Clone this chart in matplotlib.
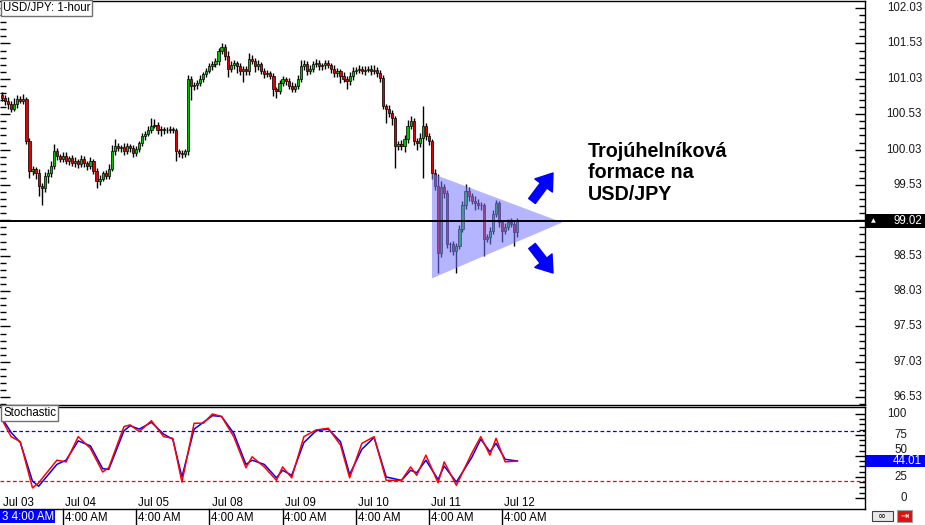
import matplotlib
matplotlib.use('Agg')
import numpy as np
import matplotlib.pyplot as plt
from matplotlib.patches import Polygon, Rectangle
from matplotlib.lines import Line2D
import matplotlib.transforms as mtrans

plt.rcParams['font.family'] = ['Liberation Sans', 'DejaVu Sans']

# ---------------- data ----------------
first_open = 100.80
closes = [
    100.76, 100.72, 100.68, 100.61, 100.68, 100.75, 100.72, 100.75, 100.15, 99.73,
    99.76, 99.70, 99.52, 99.48, 99.66, 99.70, 99.80, 100.01, 99.94, 99.90,
    99.94, 99.87, 99.91, 99.84, 99.87, 99.83, 99.90, 99.84, 99.80, 99.87,
    99.73, 99.59, 99.62, 99.70, 99.66, 99.76, 100.01, 100.08, 100.05, 100.07,
    100.01, 100.08, 100.05, 99.98, 100.04, 100.12, 100.22, 100.25, 100.30, 100.37,
    100.38, 100.30, 100.32, 100.30, 100.31, 100.32, 100.30, 100.01, 99.98, 99.97,
    100.01, 101.03, 100.93, 100.94, 100.97, 101.03, 101.10, 101.14, 101.21, 101.24,
    101.28, 101.42, 101.48, 101.35, 101.17, 101.23, 101.25, 101.21, 101.14, 101.17,
    101.14, 101.31, 101.28, 101.21, 101.24, 101.14, 101.10, 101.11, 101.07, 100.89,
    100.86, 100.97, 101.03, 101.00, 100.93, 100.89, 100.93, 101.03, 101.21, 101.24,
    101.14, 101.17, 101.24, 101.25, 101.21, 101.22, 101.25, 101.22, 101.17, 101.11,
    101.14, 101.07, 101.03, 101.00, 101.07, 101.14, 101.16, 101.17, 101.14, 101.16,
    101.17, 101.14, 101.16, 101.11, 101.04, 100.65, 100.61, 100.55, 100.48, 100.08,
    100.11, 100.08, 100.18, 100.37, 100.44, 100.15, 100.12, 100.20, 100.36, 100.22,
    100.15, 99.70, 99.52, 98.57, 99.50, 99.42, 98.70, 98.69, 98.60, 98.67,
    98.91, 99.24, 99.45, 99.37, 99.31, 99.28, 99.24, 99.25, 98.77, 98.80,
    98.88, 99.12, 99.27, 99.00, 98.88, 98.94, 99.01, 98.98, 98.86, 99.02,
]
wick_up = [
    0.05, 0.04, 0.06, 0.03, 0.08, 0.05, 0.04, 0.06, 0.03, 0.05,
    0.04, 0.03, 0.05, 0.04, 0.06, 0.05, 0.07, 0.10, 0.04, 0.03,
    0.05, 0.06, 0.03, 0.04, 0.05, 0.03, 0.06, 0.04, 0.03, 0.05,
    0.03, 0.04, 0.05, 0.03, 0.04, 0.06, 0.08, 0.10, 0.04, 0.03,
    0.05, 0.04, 0.03, 0.05, 0.04, 0.03, 0.05, 0.04, 0.06, 0.10,
    0.08, 0.04, 0.05, 0.03, 0.04, 0.05, 0.03, 0.04, 0.03, 0.04,
    0.03, 0.06, 0.04, 0.05, 0.04, 0.05, 0.03, 0.04, 0.05, 0.04,
    0.05, 0.05, 0.06, 0.04, 0.08, 0.05, 0.04, 0.03, 0.05, 0.04,
    0.04, 0.08, 0.06, 0.04, 0.05, 0.03, 0.04, 0.05, 0.03, 0.04,
    0.03, 0.05, 0.04, 0.03, 0.04, 0.05, 0.04, 0.06, 0.08, 0.05,
    0.04, 0.05, 0.04, 0.06, 0.05, 0.04, 0.05, 0.04, 0.03, 0.05,
    0.04, 0.03, 0.05, 0.04, 0.05, 0.06, 0.04, 0.05, 0.04, 0.05,
    0.04, 0.05, 0.06, 0.04, 0.05, 0.04, 0.03, 0.05, 0.04, 0.03,
    0.04, 0.05, 0.06, 0.08, 0.06, 0.04, 0.05, 0.06, 0.29, 0.05,
    0.04, 0.03, 0.06, 0.17, 0.08, 0.05, 0.04, 0.03, 0.05, 0.04,
    0.05, 0.06, 0.10, 0.05, 0.04, 0.06, 0.05, 0.04, 0.03, 0.04,
    0.05, 0.06, 0.05, 0.04, 0.03, 0.05, 0.04, 0.05, 0.04, 0.05,
]
wick_dn = [
    0.04, 0.06, 0.08, 0.05, 0.04, 0.06, 0.03, 0.05, 0.04, 0.10,
    0.06, 0.08, 0.15, 0.24, 0.05, 0.10, 0.06, 0.04, 0.06, 0.05,
    0.04, 0.05, 0.06, 0.04, 0.05, 0.06, 0.04, 0.05, 0.06, 0.04,
    0.05, 0.10, 0.06, 0.04, 0.05, 0.04, 0.03, 0.05, 0.04, 0.06,
    0.05, 0.04, 0.06, 0.05, 0.04, 0.05, 0.04, 0.05, 0.03, 0.04,
    0.04, 0.05, 0.08, 0.05, 0.04, 0.05, 0.04, 0.14, 0.05, 0.06,
    0.04, 0.05, 0.20, 0.06, 0.05, 0.04, 0.05, 0.04, 0.03, 0.05,
    0.04, 0.05, 0.04, 0.06, 0.12, 0.05, 0.06, 0.10, 0.05, 0.15,
    0.06, 0.05, 0.04, 0.08, 0.05, 0.04, 0.06, 0.05, 0.04, 0.10,
    0.10, 0.05, 0.04, 0.06, 0.05, 0.04, 0.05, 0.04, 0.05, 0.06,
    0.05, 0.04, 0.05, 0.04, 0.05, 0.06, 0.05, 0.04, 0.06, 0.05,
    0.06, 0.10, 0.05, 0.12, 0.06, 0.05, 0.04, 0.05, 0.04, 0.05,
    0.04, 0.05, 0.04, 0.05, 0.06, 0.05, 0.20, 0.06, 0.10, 0.31,
    0.06, 0.05, 0.08, 0.06, 0.05, 0.06, 0.10, 0.05, 0.57, 0.06,
    0.05, 0.08, 0.06, 0.28, 0.06, 0.08, 0.06, 0.11, 0.06, 0.32,
    0.05, 0.04, 0.05, 0.06, 0.05, 0.10, 0.05, 0.06, 0.24, 0.05,
    0.10, 0.05, 0.04, 0.06, 0.15, 0.05, 0.04, 0.05, 0.19, 0.06,
]
current_price = 99.02

# stochastic (candle index, value)
stoch_idx = [0, 3, 6, 10, 12, 18, 21, 25, 29, 33, 35, 40, 42, 45, 49, 53, 56, 59, 63, 66,
             69, 72, 76, 80, 82, 86, 90, 92, 95, 99, 103, 107, 111, 114, 118, 122, 126, 131, 134, 136,
             139, 143, 145, 149, 154, 157, 160, 162, 165, 169]
stoch_main = [93, 73, 67, 12, 18, 45, 43, 73, 59, 31, 36, 85, 87, 79, 92, 73, 71, 19, 89, 89,
              100, 97, 73, 36, 49, 37, 21, 37, 24, 73, 81, 83, 63, 24, 65, 73, 21, 21, 37, 27,
              51, 18, 43, 15, 53, 73, 51, 71, 43, 44]
stoch_signal = [95, 78, 66, 20, 14, 40, 45, 68, 62, 35, 34, 80, 86, 82, 90, 76, 70, 25, 82, 90,
                98, 97, 77, 40, 45, 40, 24, 33, 27, 66, 80, 82, 67, 28, 58, 72, 25, 21, 33, 30,
                45, 22, 38, 19, 48, 70, 55, 65, 46, 44.01]
stoch_last = 44.01
stoch_levels = [80, 20]

# triangle pattern (candle index, price)
tri_x = [141.0, 141.0, 183.7]
tri_y = [99.69, 98.21, 99.00]

price_ticks = [102.03, 101.53, 101.03, 100.53, 100.03, 99.53, 99.03, 98.53, 98.03, 97.53, 97.03, 96.53]
price_labels = ['102.03', '101.53', '101.03', '100.53', '100.03', '99.53', '', '98.53', '98.03',
                '97.53', '97.03', '96.53']
stoch_ticks = [100, 75, 50, 25, 0]

day_labels = ['Jul 04', 'Jul 05', 'Jul 08', 'Jul 09', 'Jul 10', 'Jul 11', 'Jul 12']
day_idx = [20, 44, 68, 92, 116, 140, 164]
first_day_label = 'Jul 03'
hour_label = '4:00 AM'

title = 'USD/JPY: 1-hour'
annotation_lines = ['Trojúhelníková', 'formace na', 'USD/JPY']

# ---------------- figure ----------------
W, H = 925, 525
fig = plt.figure(figsize=(W / 100, H / 100), dpi=100)
FS = 8.3


def fx(px):
    return px / W


def fy(py):
    return (H - py) / H


XL = (-0.66, 283.0)
ax = fig.add_axes([0, fy(405), fx(865), fy(1) - fy(405)])
ax2 = fig.add_axes([0, fy(509), fx(865), fy(407) - fy(509)])
for a in (ax, ax2):
    a.set_xlim(*XL)
    a.set_xticks([])
    a.spines['left'].set_visible(False)
    for s in ('top', 'right', 'bottom'):
        a.spines[s].set_color('black')
        a.spines[s].set_linewidth(1.0)
    a.set_facecolor('white')

ax.set_ylim(96.42, 102.13)
ax2.set_ylim(-13.1, 108.3)

# candles
n = len(closes)
opens = [first_open] + closes[:-1]
xs = np.arange(n)
highs = [max(o, c) + u for o, c, u in zip(opens, closes, wick_up)]
lows = [min(o, c) - d for o, c, d in zip(opens, closes, wick_dn)]
ax.vlines(xs, lows, highs, color='black', lw=1.0, zorder=2)
bottoms = [min(o, c) for o, c in zip(opens, closes)]
heights = [max(abs(c - o), 0.012) for o, c in zip(opens, closes)]
cols = ['#00c000' if c >= o else '#e00000' for o, c in zip(opens, closes)]
ax.bar(xs, heights, bottom=bottoms, width=0.72, color=cols, edgecolor='black',
       linewidth=0.5, zorder=3)

# triangle
tri = Polygon(list(zip(tri_x, tri_y)), closed=True, facecolor='#7878ff', alpha=0.55,
              edgecolor='none', zorder=4)
ax.add_patch(tri)

# current price line
ax.axhline(current_price, color='black', lw=1.4, zorder=5)

# y ticks main
minor_main = np.round(np.arange(96.43, 102.10, 0.1), 2)
ax.yaxis.set_ticks_position('both')
ax.set_yticks(price_ticks)
ax.set_yticks(minor_main, minor=True)
ax.tick_params(axis='y', which='major', direction='in', length=7, width=1, color='black',
               labelleft=False, labelright=False)
ax.tick_params(axis='y', which='minor', direction='in', length=4, width=1, color='black')

tr_main = mtrans.blended_transform_factory(fig.transFigure, ax.transData)
for p, lab in zip(price_ticks, price_labels):
    if lab:
        fig.text(fx(922), p, lab, transform=tr_main, fontsize=FS, ha='right', va='center',
                 color='#1a1a1a')

# current price box
fig.patches.append(Rectangle((fx(866), fy(228)), fx(59), 14 / H, transform=fig.transFigure,
                             facecolor='black', edgecolor='none', zorder=2.5))
fig.text(fx(873), fy(221), '▲', fontsize=4.5, color='white', ha='center', va='center',
         zorder=4, family=['DejaVu Sans'])
fig.text(fx(922), fy(221), f'{current_price:.2f}', fontsize=FS, color='white', ha='right',
         va='center', zorder=4)

# stochastic
ax2.plot(stoch_idx, stoch_signal, color='#0000ff', lw=1.1, zorder=3)
ax2.plot(stoch_idx, stoch_main, color='#ff0000', lw=1.1, zorder=4)
ax2.axhline(stoch_levels[0], color='#0000ff', lw=0.9, ls=(0, (3, 2)), zorder=2)
ax2.axhline(stoch_levels[1], color='#ff0000', lw=0.9, ls=(0, (3, 2)), zorder=2)
ax2.yaxis.set_ticks_position('right')
ax2.set_yticks(stoch_ticks)
ax2.set_yticks(np.arange(0, 100.1, 6.25), minor=True)
ax2.tick_params(axis='y', which='major', direction='in', length=7, width=1, color='black',
                labelright=False, labelleft=False)
ax2.tick_params(axis='y', which='minor', direction='in', length=4, width=1, color='black')

tr_st = mtrans.blended_transform_factory(fig.transFigure, ax2.transData)
for v in stoch_ticks:
    if v == 50:
        # partly hidden behind the current-value box, as in the original
        fig.text(fx(907), fy(450), str(v), fontsize=FS, ha='right', va='center',
                 color='#1a1a1a', zorder=2)
    else:
        fig.text(fx(907), v, str(v), transform=tr_st, fontsize=FS, ha='right', va='center',
                 color='#1a1a1a', zorder=2)
fig.patches.append(Rectangle((fx(866), fy(467)), fx(59), 12 / H, transform=fig.transFigure,
                             facecolor='#0000ff', edgecolor='none', zorder=2.5))
fig.text(fx(922), fy(461.5), f'{stoch_last:.2f}', fontsize=FS, color='white', ha='right',
         va='center', zorder=4)

# day labels inside stochastic panel
tr_day = mtrans.blended_transform_factory(ax2.transData, ax2.transAxes)
ax2.text(0.003, 0.06, first_day_label, transform=ax2.transAxes, fontsize=FS, ha='left',
         va='center')
for d, i in zip(day_labels, day_idx):
    ax2.text(i + 0.7, 0.06, d, transform=tr_day, fontsize=FS, ha='left', va='center')

# time strip under the chart
tr_strip = mtrans.blended_transform_factory(ax2.transData, fig.transFigure)
for i in day_idx:
    fig.add_artist(Line2D([i, i], [fy(509), fy(525)], transform=tr_strip, color='black', lw=1))
    fig.text(i + 0.6, fy(518), hour_label, fontsize=FS, ha='left', va='center',
             transform=tr_strip)
fig.patches.append(Rectangle((fx(0), fy(523)), fx(55), 13 / H, transform=fig.transFigure,
                             facecolor='#0000ff', edgecolor='none', zorder=1))
fig.text(fx(2), fy(517), '3 4:00 AM', fontsize=FS, color='white', ha='left', va='center',
         zorder=3)

# bottom-right icons
fig.patches.append(Rectangle((fx(872), fy(521)), fx(21), 10 / H, transform=fig.transFigure,
                             facecolor='#e8e8e8', edgecolor='#404040', lw=0.8, zorder=1))
fig.text(fx(882.5), fy(516), '∞', fontsize=7, ha='center', va='center',
         family=['DejaVu Sans'], zorder=3)
fig.patches.append(Rectangle((fx(897), fy(522)), fx(15), 12 / H, transform=fig.transFigure,
                             facecolor='#dd1010', edgecolor='#a0a0a0', lw=0.8, zorder=1))
fig.text(fx(904.5), fy(516), '⇥', fontsize=7, ha='center', va='center', color='white',
         family=['DejaVu Sans'], zorder=3)

# panel titles
fig.text(fx(3), fy(8), title, fontsize=8.3, ha='left', va='center', zorder=5,
         bbox=dict(boxstyle='square,pad=0.15', facecolor='white', edgecolor='#707070', lw=1))
fig.text(fx(3), fy(413), 'Stochastic', fontsize=8.3, ha='left', va='center', zorder=5,
         bbox=dict(boxstyle='square,pad=0.15', facecolor='white', edgecolor='#707070', lw=1))

# annotation text
for k, line in enumerate(annotation_lines):
    fig.text(fx(588), fy(157 + 21.5 * k), line, fontsize=14.2, fontweight='bold', ha='left',
             va='baseline', color='black')

# arrows
arrow_style = 'simple,head_width=1.05,head_length=0.75,tail_width=0.4'
ax.annotate('', xy=(553, H - 173), xytext=(532, H - 201), xycoords='figure pixels',
            textcoords='figure pixels', annotation_clip=False,
            arrowprops=dict(arrowstyle=arrow_style, color='#0000ff', mutation_scale=15,
                            shrinkA=0, shrinkB=0))
ax.annotate('', xy=(553, H - 273), xytext=(532, H - 246), xycoords='figure pixels',
            textcoords='figure pixels', annotation_clip=False,
            arrowprops=dict(arrowstyle=arrow_style, color='#0000ff', mutation_scale=15,
                            shrinkA=0, shrinkB=0))

fig.savefig('out.png', dpi=100, facecolor='white')
